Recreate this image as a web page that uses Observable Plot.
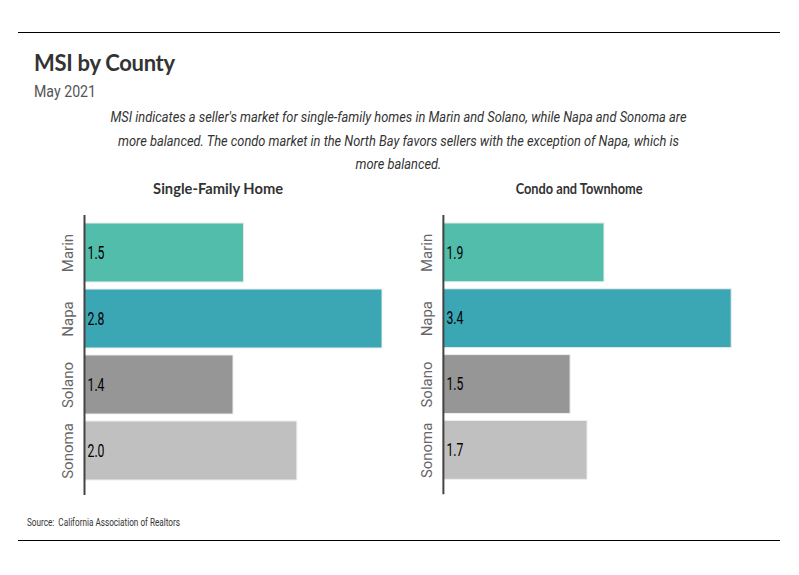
<!DOCTYPE html>
<html><head><meta charset="utf-8">
<script src="https://cdn.jsdelivr.net/npm/d3@7"></script>
<script src="https://cdn.jsdelivr.net/npm/@observablehq/plot@0.6"></script>
<style>
body{margin:0;background:#fff;}
#wrap{position:relative;width:799px;height:575px;overflow:hidden;font-family:Roboto,"DejaVu Sans",sans-serif;}
.rule{position:absolute;left:18px;width:762px;height:1px;background:#000;}
#title{position:absolute;left:34px;top:49px;font-family:Lato,"Open Sans",sans-serif;font-weight:700;font-size:22px;color:#333;letter-spacing:-0.3px;white-space:nowrap;}
#subtitle{position:absolute;left:34px;top:82px;font-size:16px;color:#555;white-space:nowrap;transform-origin:0 50%;}
#note{position:absolute;left:0;width:797px;top:106px;font-size:15px;font-style:italic;color:#333;text-align:center;line-height:23.5px;transform-origin:398.5px 50%;}
#note div{white-space:nowrap;}
.ptitle{position:absolute;top:180px;font-family:Lato,"Open Sans",sans-serif;font-weight:700;font-size:14.5px;color:#333;white-space:nowrap;}
#source{position:absolute;left:27px;top:516px;font-size:11px;color:#333;white-space:nowrap;transform-origin:0 50%;}
.panel{position:absolute;top:200px;}
</style></head><body>
<div id="wrap">
  <div class="rule" style="top:32px"></div>
  <div id="title">MSI by County</div>
  <div id="subtitle">May 2021</div>
  <div id="note">
    <div><span id="note1">MSI indicates a seller's market for single-family homes in Marin and Solano, while Napa and Sonoma are</span></div>
    <div><span>more balanced. The condo market in the North Bay favors sellers with the exception of Napa, which is</span></div>
    <div><span>more balanced.</span></div>
  </div>
  <div class="ptitle" id="pt1">Single-Family Home</div>
  <div class="ptitle" id="pt2">Condo and Townhome</div>
  <div id="left" class="panel" style="left:0px"></div>
  <div id="right" class="panel" style="left:400px"></div>
  <div id="source">Source:&nbsp; California Association of Realtors</div>
  <div class="rule" style="top:540px"></div>
</div>
<script>
const counties = ["Marin", "Napa", "Solano", "Sonoma"];
const singleFamily = [1.5, 2.8, 1.4, 2.0];
const condo = [1.9, 3.4, 1.5, 1.7];
const countyColors = ["#52bdab", "#3ba6b4", "#969696", "#c0c0c0"];

const font = 'Roboto,"DejaVu Sans",sans-serif';

function panel(values, marginLeft, marginRight) {
  const data = counties.map((c, i) => ({county: c, value: values[i]}));
  return Plot.plot({
    width: 400,
    height: 300,
    marginTop: 15,
    marginBottom: 5,
    marginLeft,
    marginRight,
    style: {fontFamily: font, background: "transparent", overflow: "visible"},
    x: {domain: [0, d3.max(values)], axis: null},
    y: {domain: counties, axis: null, paddingInner: 0.1, paddingOuter: 0.14, align: 0.37},
    color: {domain: counties, range: countyColors},
    marks: [
      Plot.barX(data, {y: "county", x: "value", fill: "county", stroke: "#eeeeee", strokeWidth: 1}),
      Plot.ruleX([0], {stroke: "#444", strokeWidth: 2}),
      Plot.text(data, {y: "county", x: 0, text: d => d.value.toFixed(1), textAnchor: "start", dx: 3, fontSize: 18, fill: "#000", className: "vals"}),
      Plot.text(data, {y: "county", text: "county", frameAnchor: "left", textAnchor: "middle", lineAnchor: "middle", rotate: -90, dx: -16, fontSize: 15, fill: "#666", className: "cats"})
    ]
  });
}

document.getElementById("left").appendChild(panel(singleFamily, 84, 18));
document.getElementById("right").appendChild(panel(condo, 43, 68));

// condense value labels (start-anchored) to mimic a narrow typeface
document.querySelectorAll(".vals text").forEach(t => {
  const w = t.getComputedTextLength();
  t.setAttribute("textLength", (w * 0.68).toFixed(2));
  t.setAttribute("lengthAdjust", "spacingAndGlyphs");
});

// fit HTML texts to the reference widths
function fitWidth(el, target, measureEl) {
  const m = measureEl || el;
  const r = document.createRange();
  r.selectNodeContents(m);
  const w = r.getBoundingClientRect().width;
  el.style.transform = `scaleX(${target / w})`;
}
fitWidth(document.getElementById("note"), 576, document.getElementById("note1"));
fitWidth(document.getElementById("subtitle"), 62);
fitWidth(document.getElementById("source"), 153);

function centerAt(el, cx, target) {
  const w = el.getBoundingClientRect().width;
  el.style.transformOrigin = "50% 50%";
  el.style.left = (cx - w / 2) + "px";
  el.style.transform = `scaleX(${target / w})`;
}
centerAt(document.getElementById("pt1"), 218, 130);
centerAt(document.getElementById("pt2"), 579.5, 127);
</script>
</body></html>
